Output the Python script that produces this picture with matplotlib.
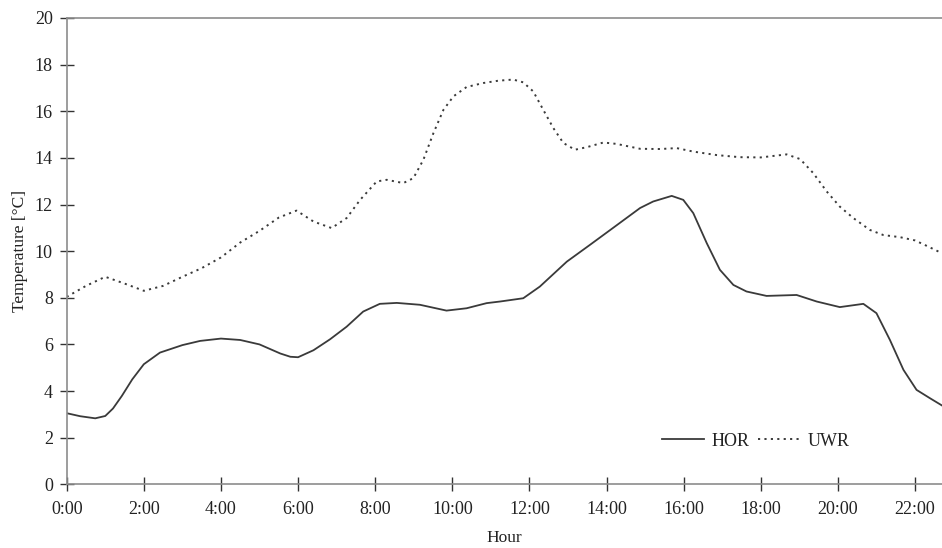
import matplotlib
matplotlib.use("Agg")
import matplotlib.pyplot as plt

plt.rcParams['font.family'] = ['Liberation Serif', 'DejaVu Serif']

hor_hours = [0.0, 0.35, 0.74, 1.0, 1.2, 1.43, 1.7, 2.0, 2.42, 3.0, 3.46, 4.0, 4.5, 5.0, 5.54, 5.8,
             6.0, 6.4, 6.83, 7.26, 7.69, 8.12, 8.56, 9.16, 9.85, 10.37, 10.89, 11.24, 11.84, 12.27,
             12.97, 13.57, 14.18, 14.87, 15.21, 15.69, 15.99, 16.25, 16.6, 16.94, 17.29, 17.63,
             18.15, 18.93, 19.45, 20.05, 20.66, 21.0, 21.35, 21.70, 22.04, 22.39, 22.7]
hor_temp = [3.05, 2.92, 2.83, 2.93, 3.25, 3.79, 4.5, 5.15, 5.65, 5.97, 6.15, 6.25, 6.19, 6.0, 5.61, 5.47,
            5.45, 5.75, 6.22, 6.76, 7.41, 7.74, 7.78, 7.70, 7.45, 7.55, 7.77, 7.84, 7.98, 8.48,
            9.55, 10.27, 11.01, 11.85, 12.13, 12.37, 12.2, 11.63, 10.34, 9.2, 8.55, 8.27,
            8.08, 8.12, 7.84, 7.6, 7.74, 7.34, 6.19, 4.91, 4.05, 3.69, 3.38]

uwr_hours = [0.0, 0.5, 1.0, 1.5, 2.0, 2.5, 3.0, 3.5, 4.0, 4.5, 5.0, 5.5, 5.96, 6.4, 6.87, 7.26, 7.61,
             8.04, 8.30, 8.73, 8.99, 9.25, 9.51, 9.77, 10.03, 10.37, 10.80, 11.19, 11.58, 11.84,
             12.10, 12.36, 12.62, 12.88, 13.18, 13.49, 13.92, 14.26, 14.87, 15.39, 15.82, 16.25,
             16.86, 17.46, 18.0, 18.67, 19.02, 19.36, 19.71, 20.05, 20.40, 20.83, 21.18, 21.61,
             22.0, 22.3, 22.7]
uwr_temp = [8.04, 8.51, 8.9, 8.61, 8.3, 8.51, 8.9, 9.27, 9.73, 10.37, 10.87, 11.44, 11.74, 11.27, 10.99,
            11.42, 12.2, 12.99, 13.06, 12.92, 13.13, 13.92, 15.06, 16.06, 16.64, 17.04, 17.21, 17.31,
            17.36, 17.24, 16.85, 16.06, 15.28, 14.64, 14.35, 14.46, 14.66, 14.6, 14.39, 14.38, 14.42,
            14.27, 14.12, 14.03, 14.02, 14.15, 13.95, 13.35, 12.56, 11.91, 11.42, 10.91, 10.69, 10.60,
            10.46, 10.23, 9.91]

tick_hours = list(range(0, 23, 2))
tick_labels = [f"{h}:00" for h in tick_hours]
y_ticks = list(range(0, 21, 2))

fig = plt.figure(figsize=(9.42, 5.48), dpi=100)
ax = fig.add_axes([66.7 / 942, (548 - 484.3) / 548, 1 - 66.7 / 942, (484.3 - 18) / 548])

line_col = '#3a3a3a'
ax.plot(hor_hours, hor_temp, color=line_col, lw=1.3, label='HOR')
ax.plot(uwr_hours, uwr_temp, color=line_col, lw=1.4, linestyle=(0, (1.1, 2.2)), label='UWR')

ax.set_xlim(0, 22.7)
ax.set_ylim(0, 20)
ax.set_xticks(tick_hours)
ax.set_xticklabels(tick_labels)
ax.set_yticks(y_ticks)

spine_col = '#8c8c8c'
for s in ['left', 'bottom', 'top']:
    ax.spines[s].set_color(spine_col)
    ax.spines[s].set_linewidth(1.2)
ax.spines['right'].set_visible(False)

ax.tick_params(axis='both', direction='inout', length=10, width=1.0, color='#333333',
               labelsize=13, labelcolor='#222222')
ax.tick_params(axis='x', pad=7)
ax.tick_params(axis='y', pad=5)

ax.set_xlabel('Hour', fontsize=12.5, color='#222222', labelpad=9)
ax.set_ylabel('Temperature [°C]', fontsize=12.5, color='#222222', labelpad=5)

leg = ax.legend(loc='center', bbox_to_anchor=(756 / 942, 1 - 441 / 548), bbox_transform=fig.transFigure,
                ncol=2, frameon=False, fontsize=13, handlelength=2.3, handletextpad=0.45,
                columnspacing=0.45)
for t in leg.get_texts():
    t.set_color('#222222')

fig.savefig('out.png', dpi=100)
